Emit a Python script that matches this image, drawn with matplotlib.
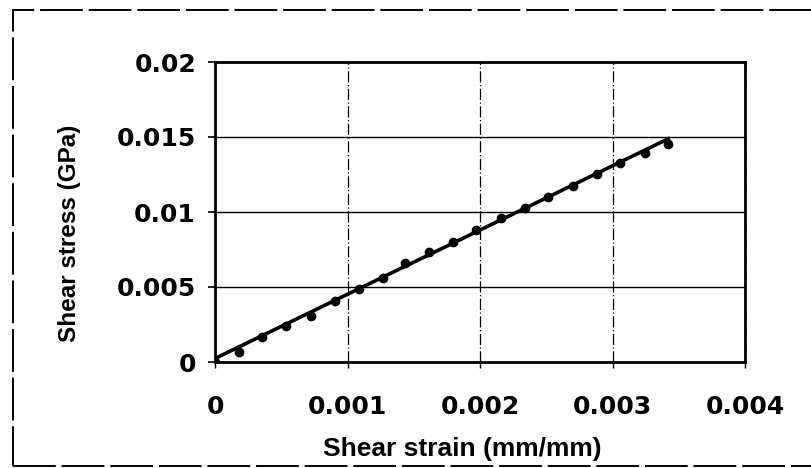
import matplotlib.pyplot as plt
from matplotlib.patches import Rectangle

# measured shear test points
strain = [0.0, 0.000177, 0.000349, 0.000532, 0.000721, 0.000903, 0.001086,
          0.001263, 0.001429, 0.00161, 0.001794, 0.001967, 0.002156,
          0.002337, 0.002514, 0.002702, 0.002879, 0.003055, 0.003244, 0.00342]
stress = [0.0, 0.00069, 0.00167, 0.00242, 0.00309, 0.00409, 0.00487,
          0.00558, 0.00658, 0.00735, 0.00802, 0.0088, 0.00958, 0.01029,
          0.01102, 0.01173, 0.01255, 0.01325, 0.01395, 0.01451]

# linear trend line end points
trend_x = [0.0, 0.00342]
trend_y = [0.00025, 0.01488]

x_ticks = [0, 0.001, 0.002, 0.003, 0.004]
x_tick_labels = ["0", "0.001", "0.002", "0.003", "0.004"]
y_ticks = [0, 0.005, 0.01, 0.015, 0.02]
y_tick_labels = ["0", "0.005", "0.01", "0.015", "0.02"]

plt.rcParams["font.family"] = ["Liberation Sans", "DejaVu Sans"]

fig = plt.figure(figsize=(8.12, 4.68), dpi=100)
ax = fig.add_axes([215.5 / 812, 1 - 362 / 468, 529.5 / 812, 300 / 468])

ax.plot(trend_x, trend_y, color="black", linewidth=2.6, zorder=3)
ax.plot(strain, stress, "o", color="black", markersize=6, zorder=4)

ax.set_xlim(0, 0.004)
ax.set_ylim(0, 0.02)
ax.set_xticks(x_ticks)
ax.set_xticklabels(x_tick_labels)
ax.set_yticks(y_ticks)
ax.set_yticklabels(y_tick_labels)

ax.yaxis.grid(True, color="black", linewidth=1.0, linestyle="-")
ax.xaxis.grid(True, color="black", linewidth=0.9, linestyle=(0, (9, 2, 1, 2)))
ax.set_axisbelow(True)

for s in ax.spines.values():
    s.set_linewidth(2.0)
    s.set_color("black")

ax.tick_params(axis="y", direction="out", length=5, width=1.2, pad=9)
ax.tick_params(axis="x", direction="out", length=4, width=1.0, pad=20)
for lbl in ax.get_xticklabels() + ax.get_yticklabels():
    lbl.set_family("DejaVu Sans")
    lbl.set_fontweight("bold")
    lbl.set_fontsize(18)

ax.set_xlabel("Shear strain (mm/mm)", fontsize=19, fontweight="bold")
ax.set_ylabel("Shear stress (GPa)", fontsize=17.5, fontweight="bold")
ax.xaxis.set_label_coords(0.467, -0.29)
ax.xaxis.label.set_va("center")
ax.yaxis.set_label_coords(-0.276, 0.43)
ax.yaxis.label.set_va("center")

# dashed outer frame of the pasted chart
frame = Rectangle((13 / 812, 2 / 468), 1.0, 456 / 468, transform=fig.transFigure,
                  fill=False, edgecolor="black", linewidth=1.4,
                  linestyle=(0, (22, 3)), clip_on=False)
fig.patches.append(frame)

fig.savefig("out.png", dpi=100)
